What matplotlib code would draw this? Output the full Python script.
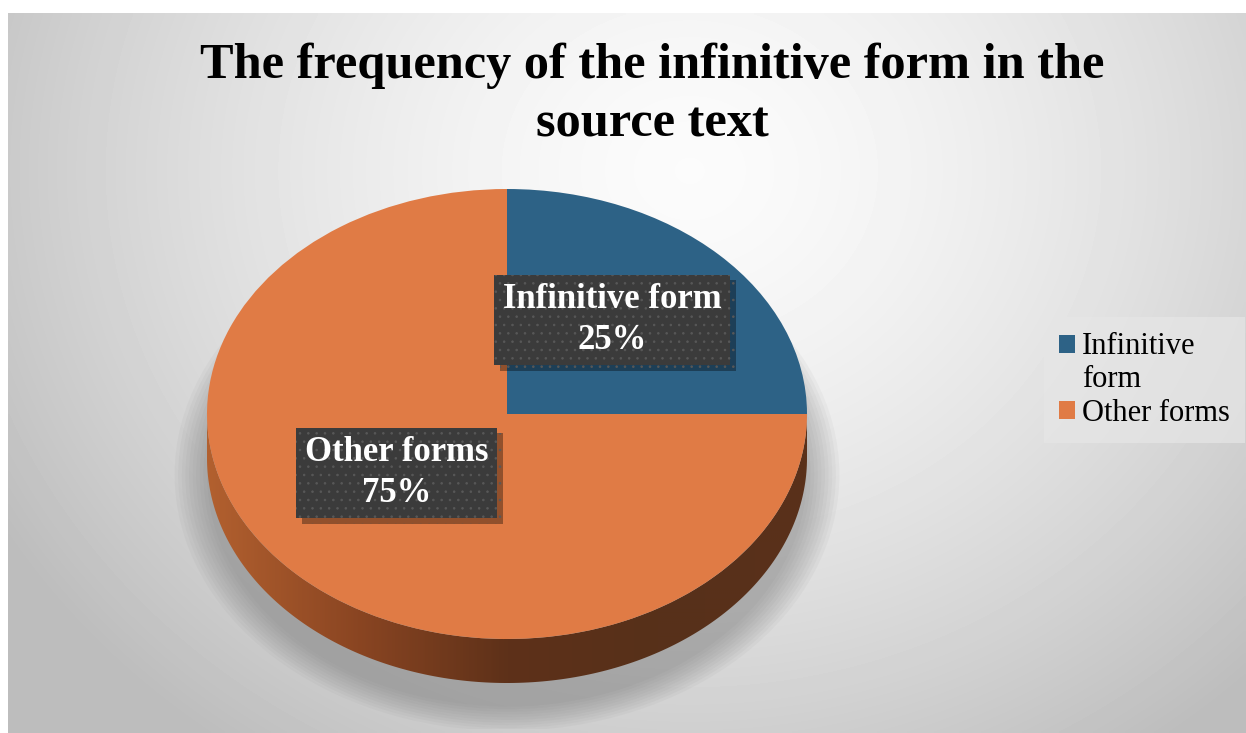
"""
Pie chart: frequency of the infinitive form in the source text
(3-D looking Excel-style pie, rebuilt with matplotlib)
"""

import numpy as np
import matplotlib
matplotlib.use("Agg")
import matplotlib.pyplot as plt
from matplotlib.patches import Ellipse, Polygon, Rectangle
from matplotlib.colors import LinearSegmentedColormap
from matplotlib.legend_handler import HandlerPatch
import matplotlib.patheffects as pe

# ── Data ──────────────────────────────────────────────────────────────────────
categories    = ["Infinitive form", "Other forms"]
legend_labels = ["Infinitive\nform", "Other forms"]
shares        = [25, 75]
colors        = ["#2d6286", "#e07b45"]
title         = "The frequency of the infinitive form in the\nsource text"

W, H = 1246, 733
SERIF = ["Liberation Serif", "DejaVu Serif"]

# pixel geometry of the pie (top face ellipse)
CX, CY, RX, RY = 507, 414, 300, 225
DEPTH = 44 / RY            # side thickness in data units

plt.rcParams["hatch.linewidth"] = 0.6


def fx(px):
    return px / W


def fy(py):
    return 1 - py / H


fig = plt.figure(figsize=(W / 100, H / 100), dpi=100, facecolor="white")

# ── background gradient ──────────────────────────────────────────────────────
bg = fig.add_axes([fx(8), 0, 1 - fx(8), fy(13)])
xx, yy = np.meshgrid(np.linspace(8, W, 400), np.linspace(13, H, 240))
r = np.sqrt(((xx - 690) / 700) ** 2 + ((yy - 170) / 620) ** 2)
shade = np.clip(0.985 - 0.2 * r ** 1.5, 0.74, 1)
bg.imshow(shade, cmap="gray", vmin=0, vmax=1, aspect="auto",
          extent=(8, W, H, 13), interpolation="bilinear")
bg.set_axis_off()

# ── pie axes: unit circle maps onto the ellipse ──────────────────────────────
xl, xr = -1.15, 1.15
yb, yt = -1.4, 1.1
left_px, right_px = CX + xl * RX, CX + xr * RX
top_px, bot_px = CY - yt * RY, CY - yb * RY
ax = fig.add_axes([fx(left_px), fy(bot_px), (right_px - left_px) / W, (bot_px - top_px) / H])

# soft shadow behind the pie
for k in range(10):
    ax.add_patch(Ellipse((0, -0.27), 2 * (1.0 + 0.012 * k), 2 * (1.03 + 0.012 * k),
                         color="#707070", alpha=0.055, lw=0, zorder=0))

# side of the cylinder (front half only belongs to the big wedge)
t = np.linspace(np.pi, 2 * np.pi, 200)
side_xy = np.concatenate([np.c_[np.cos(t), np.sin(t)],
                          np.c_[np.cos(t[::-1]), np.sin(t[::-1]) - DEPTH]])
side = Polygon(side_xy, closed=True, fc="none", ec="none")
ax.add_patch(side)
side_cmap = LinearSegmentedColormap.from_list(
    "side", ["#b2602f", "#8a4522", "#5e3119", "#57301a", "#5a311a"])
grad = np.tile(np.linspace(0, 1, 300), (10, 1))
im = ax.imshow(grad, cmap=side_cmap, extent=(-1, 1, -1 - DEPTH, 0),
               aspect="auto", zorder=0.5, interpolation="bilinear")
im.set_clip_path(side)

wedges, _ = ax.pie(shares, colors=colors, startangle=90, counterclock=False,
                   radius=1, wedgeprops=dict(linewidth=0))
ax.set_aspect("auto")
ax.set_xlim(xl, xr)
ax.set_ylim(yb, yt)
ax.axis("off")

# data labels (dark dotted boxes with a drop shadow)
label_pos = [(0.35, 0.418), (-0.367, -0.262)]
for name, val, (lx, ly) in zip(categories, shares, label_pos):
    lab = ax.text(lx, ly, f"{name}\n{val}%", ha="center", va="center",
                  fontsize=25, fontweight="bold", family=SERIF, color="white",
                  linespacing=1.3, zorder=4,
                  bbox=dict(boxstyle="square,pad=0.25", fc="#3b3b3b", ec="#585858",
                            lw=0, hatch=".."))
    lab.get_bbox_patch().set_path_effects(
        [pe.SimplePatchShadow(offset=(4, -4), shadow_rgbFace="black", alpha=0.35),
         pe.Normal()])

# ── title ────────────────────────────────────────────────────────────────────
fig.text(fx(652), fy(95), title, ha="center", va="center", fontsize=36.3,
         fontweight="bold", family=SERIF, linespacing=1.36)


# ── legend (square next to the first line of a wrapped label) ────────────────
def first_line_square(legend, orig_handle, xdescent, ydescent, width, height, fontsize):
    return Rectangle((-xdescent, -ydescent + 0.63 * fontsize), width, height)


leg = fig.legend(wedges, legend_labels, loc="center left",
                 bbox_to_anchor=(fx(1044), fy(380)),
                 handler_map={wedges[0]: HandlerPatch(patch_func=first_line_square)},
                 prop=dict(family=SERIF, size=22), frameon=True, fancybox=False,
                 handlelength=0.5, handleheight=0.5, handletextpad=0.25,
                 labelspacing=0.15, borderpad=0.5, borderaxespad=0)
leg.get_frame().set_facecolor("#e6e6e6")
leg.get_frame().set_edgecolor("none")
leg.get_frame().set_alpha(0.7)

fig.savefig("out.png", dpi=100, facecolor="white")
